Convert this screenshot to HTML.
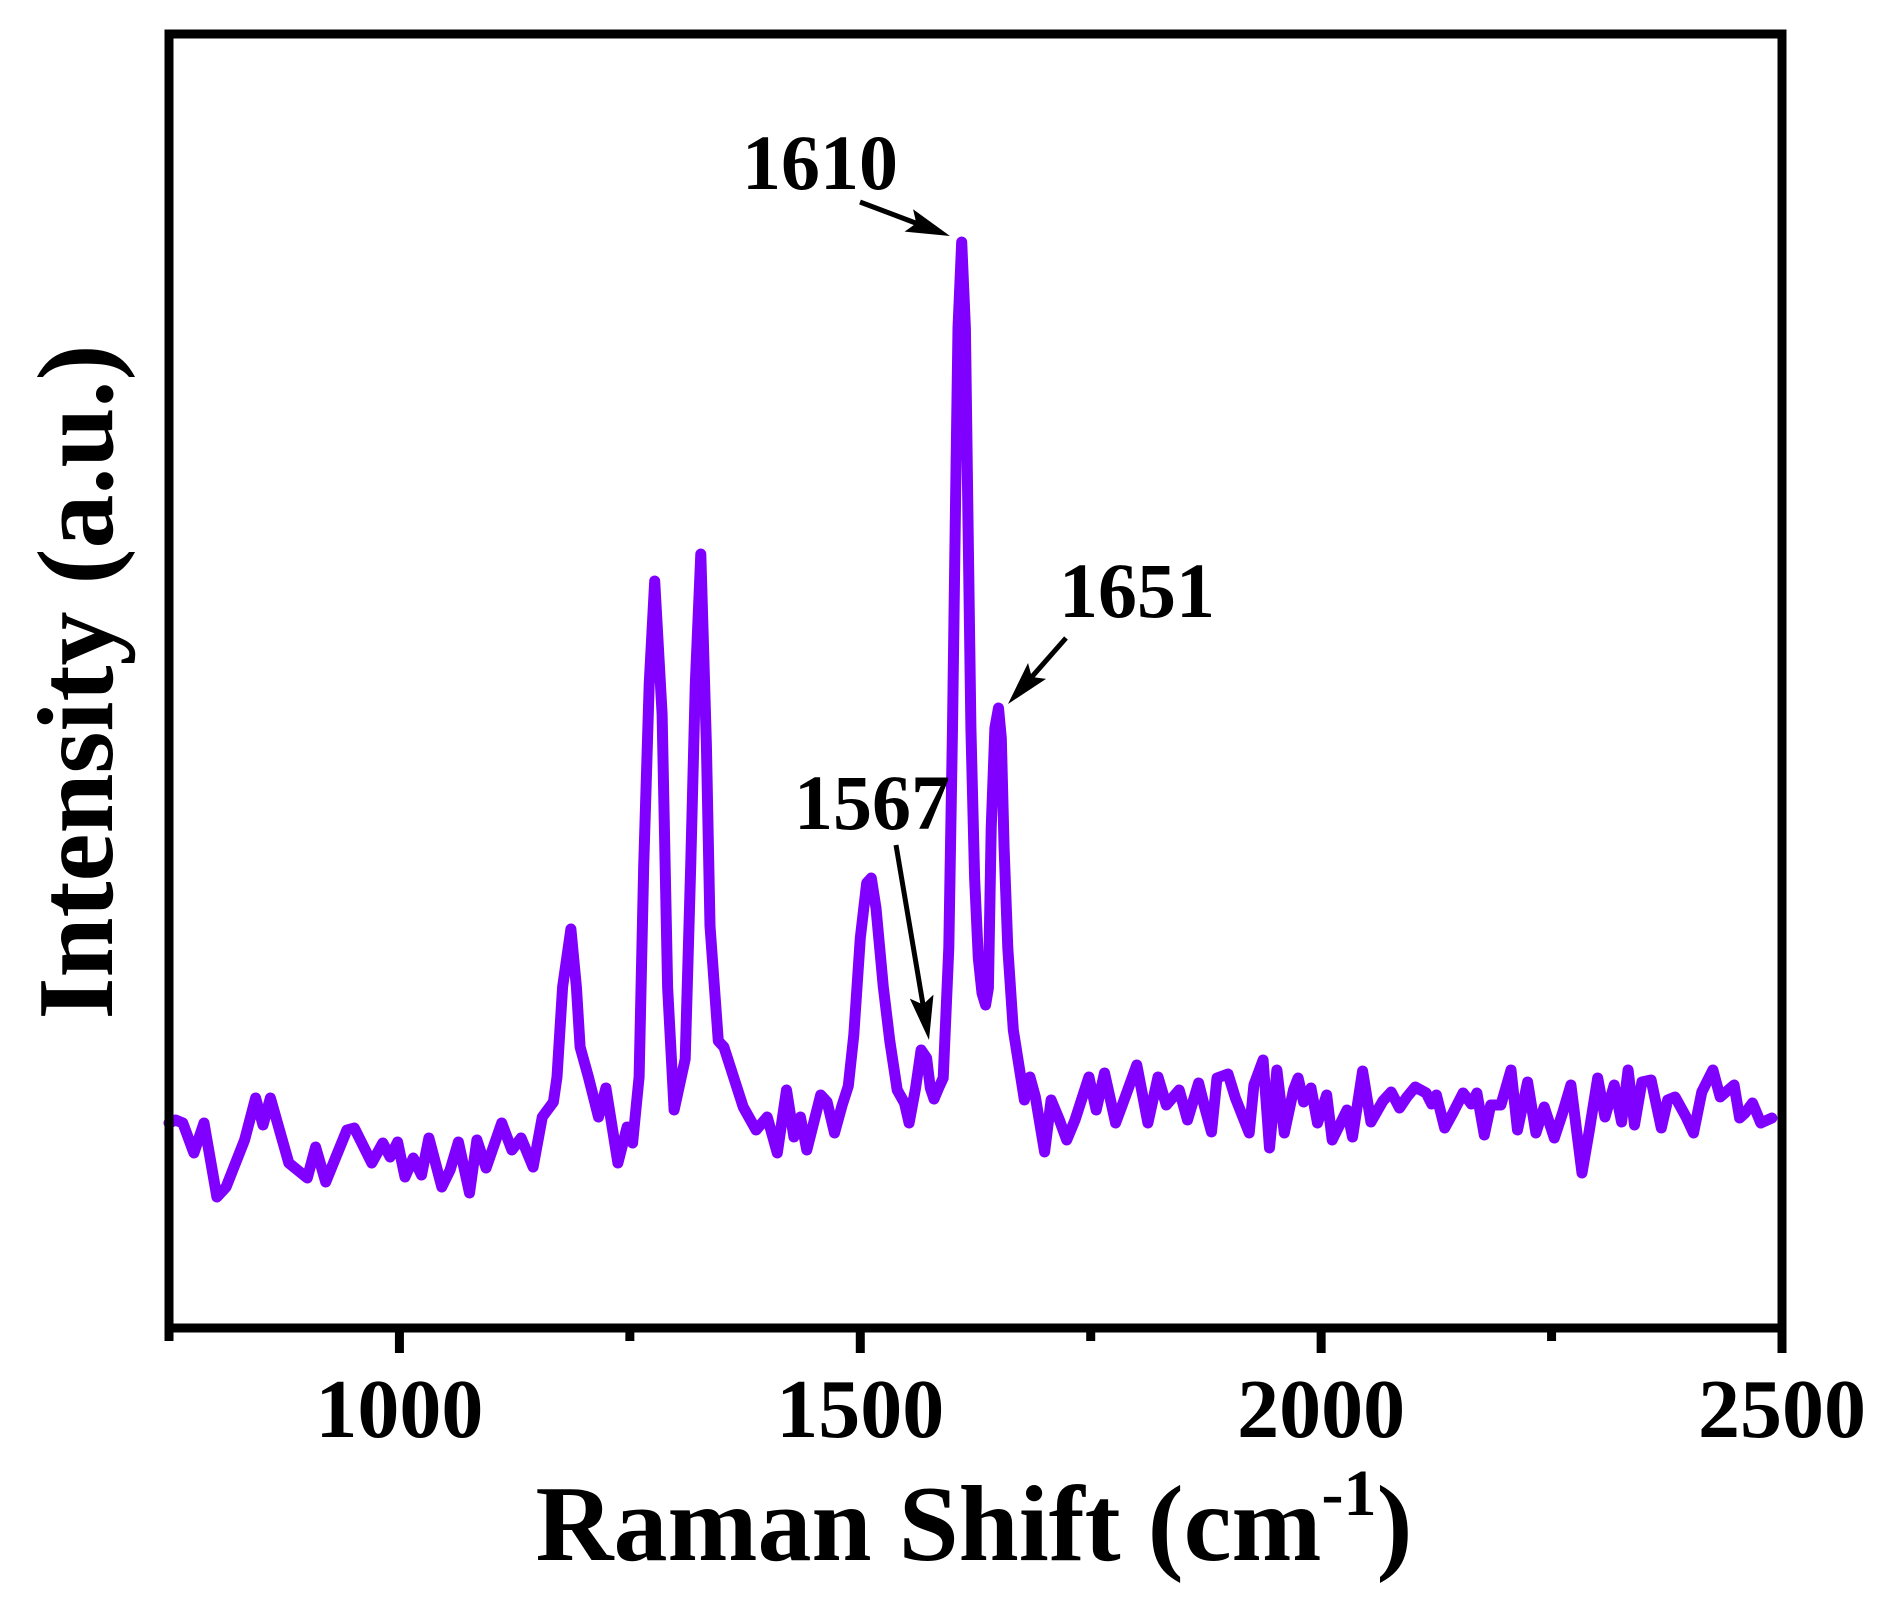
<!DOCTYPE html>
<html><head><meta charset="utf-8">
<style>
html,body{margin:0;padding:0;background:#fff;}
svg{display:block;}
text{font-family:"Liberation Serif","Times New Roman",serif;font-weight:bold;fill:#000;}
</style></head>
<body>
<svg id="chart" width="1891" height="1604" viewBox="0 0 1891 1604" xmlns="http://www.w3.org/2000/svg">
<g id="plot"></g>
<g id="axes"></g>
<text x="0" y="0" font-size="108" text-anchor="middle" transform="translate(112,682) rotate(-90)">Intensity (a.u.)</text>
<text x="974" y="1560" font-size="108" text-anchor="middle">Raman Shift (cm<tspan font-size="66" dy="-45">-1</tspan><tspan dy="45">)</tspan></text>
</svg>
<script>
const wavenumbers = [750,757,765,777,788,802,812,832,844,852,860,880,900,909,920,943,951,970,982,990,998,1006,1015,1024,1032,1046,1055,1064,1076,1084,1094,1111,1122,1132,1145,1155,1167,1171,1177,1186,1192,1196,1205,1216,1224,1237,1247,1253,1260,1265,1271,1277,1285,1291,1298,1310,1316,1321,1327,1333,1337,1346,1352,1373,1387,1399,1410,1420,1428,1435,1442,1457,1464,1472,1480,1487,1493,1500,1507,1512,1517,1525,1532,1540,1548,1553,1560,1566,1572,1576,1580,1585,1590,1596,1600,1603,1606,1610,1614,1617,1620,1624,1628,1632,1636,1639,1642,1646,1650,1653,1656,1660,1666,1678,1684,1690,1700,1707,1716,1724,1733,1748,1756,1765,1777,1785,1800,1812,1823,1832,1846,1855,1867,1873,1881,1887,1899,1907,1922,1927,1937,1944,1952,1960,1970,1975,1981,1989,1996,2006,2012,2028,2034,2045,2054,2067,2076,2085,2093,2102,2114,2120,2125,2134,2143,2154,2163,2169,2177,2184,2195,2206,2213,2224,2233,2242,2253,2262,2271,2283,2291,2300,2308,2318,2326,2333,2340,2348,2358,2369,2376,2384,2396,2404,2413,2425,2433,2448,2454,2460,2468,2477,2489,2493,2498];
const intensities = [205,208,205,175,205,131,141,188,230,203,230,165,150,181,146,198,200,165,185,171,186,151,170,153,190,141,158,186,135,188,160,205,178,190,161,211,226,251,341,399,341,281,251,211,240,165,201,185,251,462,644,747,614,341,218,269,462,644,774,583,402,287,281,221,198,211,175,238,191,211,178,233,226,195,222,242,293,390,445,450,420,341,287,238,225,205,240,278,270,240,229,240,250,380,600,800,1000,1086,1000,800,600,450,370,335,323,340,500,600,620,590,480,380,298,228,251,231,176,228,208,188,208,251,218,255,205,225,263,205,251,223,238,208,245,223,196,250,254,230,195,243,268,180,258,195,238,250,226,240,205,233,188,218,191,257,206,227,236,220,231,241,235,224,233,200,215,235,224,235,193,223,223,258,198,246,195,221,190,215,243,155,198,250,211,243,206,258,203,246,248,200,228,231,211,195,236,258,231,243,210,215,225,205,210];
const xTickValues = [1000,1500,2000,2500];
const xTickLabels = ["1000","1500","2000","2500"];
const xMinorValues = [750,1250,1750,2250];
const annotations = [
  {label:"1610", x:1610},
  {label:"1651", x:1651},
  {label:"1567", x:1567}
];
const NS="http://www.w3.org/2000/svg";
const L=169,R=1782,T=34,B=1328;
const xMin=750,xMax=2500,yMin=0,yMax=1294;
function sx(v){return L+(v-xMin)/(xMax-xMin)*(R-L);}
function sy(v){return B-(v-yMin)/(yMax-yMin)*(B-T);}
const plot=document.getElementById('plot');
const axes=document.getElementById('axes');
let d='';
for(let i=0;i<wavenumbers.length;i++){d+=(i?'L':'M')+sx(wavenumbers[i]).toFixed(1)+' '+sy(intensities[i]).toFixed(1);}
const line=document.createElementNS(NS,'path');
line.setAttribute('d',d);line.setAttribute('fill','none');line.setAttribute('stroke','#8000ff');
line.setAttribute('stroke-width','11');line.setAttribute('stroke-linejoin','round');line.setAttribute('stroke-linecap','round');


plot.appendChild(line);
const frame=document.createElementNS(NS,'rect');
frame.setAttribute('x',L);frame.setAttribute('y',T);frame.setAttribute('width',R-L);frame.setAttribute('height',B-T);
frame.setAttribute('fill','none');frame.setAttribute('stroke','#000');frame.setAttribute('stroke-width','9');


axes.appendChild(frame);
xTickValues.forEach((v,i)=>{
  const t=document.createElementNS(NS,'line');
  t.setAttribute('x1',sx(v));t.setAttribute('x2',sx(v));t.setAttribute('y1',B);t.setAttribute('y2',B+25);
  t.setAttribute('stroke','#000');t.setAttribute('stroke-width','9');
  
  
  axes.appendChild(t);
  const lb=document.createElementNS(NS,'text');
  lb.setAttribute('x',sx(v));lb.setAttribute('y',1437);lb.setAttribute('font-size','84');lb.setAttribute('text-anchor','middle');
  lb.textContent=xTickLabels[i];
  
  
  axes.appendChild(lb);
});
xMinorValues.forEach(v=>{
  const t=document.createElementNS(NS,'line');
  t.setAttribute('x1',sx(v));t.setAttribute('x2',sx(v));t.setAttribute('y1',B);t.setAttribute('y2',B+13);
  t.setAttribute('stroke','#000');t.setAttribute('stroke-width','9');
  
  
  axes.appendChild(t);
});
// annotation layout: [textX, textY, tailX, tailY, headX, headY]
const annLayout=[[820,189,860,202,950,236],[1137,617,1066,638,1008,704],[872,829,896,845,929,1040]];
annotations.forEach((a,i)=>{
  const p=annLayout[i];
  const tx=document.createElementNS(NS,'text');
  tx.setAttribute('x',p[0]);tx.setAttribute('y',p[1]);tx.setAttribute('font-size','78');tx.setAttribute('text-anchor','middle');
  tx.textContent=a.label;
  
  
  plot.appendChild(tx);
  const dx=p[4]-p[2],dy=p[5]-p[3],len=Math.hypot(dx,dy),ux=dx/len,uy=dy/len;
  const hl=44,hw=12;
  const bx=p[4]-ux*hl,by=p[5]-uy*hl;
  const ln=document.createElementNS(NS,'line');
  ln.setAttribute('x1',p[2]);ln.setAttribute('y1',p[3]);ln.setAttribute('x2',bx+ux*10);ln.setAttribute('y2',by+uy*10);
  ln.setAttribute('stroke','#000');ln.setAttribute('stroke-width','5');
  
  
  plot.appendChild(ln);
  const hd=document.createElementNS(NS,'polygon');
  hd.setAttribute('points',`${p[4]},${p[5]} ${bx-uy*hw},${by+ux*hw} ${bx+ux*8},${by+uy*8} ${bx+uy*hw},${by-ux*hw}`);
  hd.setAttribute('fill','#000');
  
  
  plot.appendChild(hd);
});
</script>
</body></html>
